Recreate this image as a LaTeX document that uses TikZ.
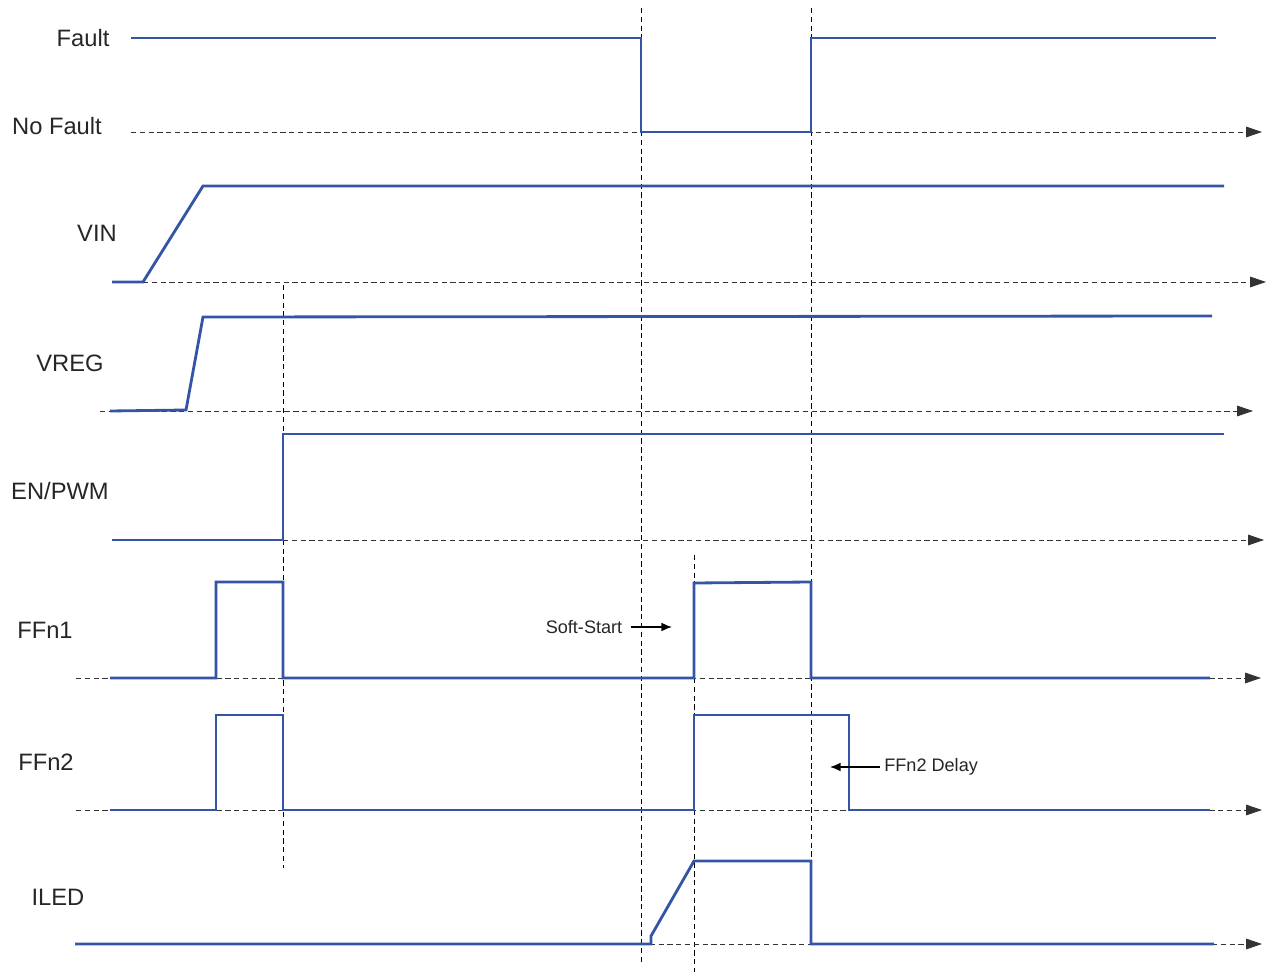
\documentclass[tikz,border=0pt]{standalone}
\usepackage{fontspec}
\setmainfont{Liberation Sans}
\usetikzlibrary{arrows.meta}
\definecolor{sigblue}{RGB}{52,84,165}

\begin{document}
\begin{tikzpicture}[
  x=0.02cm, y=-0.02cm,
  sig/.style={draw=sigblue,line width=1.6pt,line join=miter},
  axis/.style={draw=black!80,dash pattern=on 3pt off 2pt,line width=0.5pt,-{Triangle[length=9pt,width=6pt]}},
  guide/.style={draw=black,dash pattern=on 3pt off 2pt,line width=0.5pt},
  lbl/.style={font=\fontsize{13.5}{16}\selectfont,text=black!85,inner sep=0pt},
  note/.style={font=\fontsize{10.3}{12}\selectfont,text=black!85,inner sep=0pt},
  pointer/.style={draw=black,line width=0.8pt,-{Latex[length=6pt,width=5pt]}}
]
  \useasboundingbox (0,0) rectangle (1267,972);
  % vertical guides
  \draw[guide] (641,8) -- (641,965);
  \draw[guide] (811,8) -- (811,860);
  \draw[guide] (283,285) -- (283,868);
  \draw[guide] (694,555) -- (694,972);
  % time axes
  \draw[axis] (131,132) -- (1262,132);
  \draw[axis] (143,282) -- (1266,282);
  \draw[axis] (100,411) -- (1253,411);
  \draw[axis] (283,540) -- (1264,540);
  \draw[axis] (76,678) -- (1261,678);
  \draw[axis] (76,810) -- (1262,810);
  \draw[axis] (641,944) -- (1262,944);
  % labels
  \node[lbl] (fault) at (83,38) {Fault};
  \node[lbl] (nofault) at (57,126) {No Fault};
  \node[lbl] (vin) at (97,233) {VIN};
  \node[lbl] (vreg) at (70,363) {VREG};
  \node[lbl] (en) at (60,491) {EN/PWM};
  \node[lbl] (ffn1) at (45,630) {FFn1};
  \node[lbl] (ffn2) at (46,762) {FFn2};
  \node[lbl] (iled) at (58,897) {ILED};
  % signals
  \draw[sig] (131,38) -- (641,38) -- (641,132) -- (811,132) -- (811,38) -- (1216,38);
  \draw[sig] (112,282) -- (143,282) -- (203,186) -- (1224,186);
  \draw[sig] (110,411) -- (186,410) -- (203,317) -- (1212,316);
  \draw[sig] (112,540) -- (283,540) -- (283,434) -- (1224,434);
  \draw[sig] (110,678) -- (216,678) -- (216,582) -- (283,582) -- (283,678) -- (694,678)
    -- (694,583) -- (811,582) -- (811,678) -- (1210,678);
  \draw[sig] (110,810) -- (216,810) -- (216,715) -- (283,715) -- (283,810) -- (694,810)
    -- (694,715) -- (849,715) -- (849,810) -- (1210,810);
  \draw[sig] (75,944) -- (651,944) -- (651,936) -- (694,861) -- (811,861) -- (811,944) -- (1214,944);
  % annotations
  \node[note] (soft) at (584,627) {Soft-Start};
  \coordinate (softend) at (672,627);
  \draw[pointer] (soft.east) ++(8,0) -- (softend);
  \node[note,anchor=west] (delay) at (884,767) {FFn2 Delay};
  \coordinate (delayend) at (830,767);
  \draw[pointer] (delay.west) ++(-4,0) -- (delayend);
\end{tikzpicture}
\end{document}
